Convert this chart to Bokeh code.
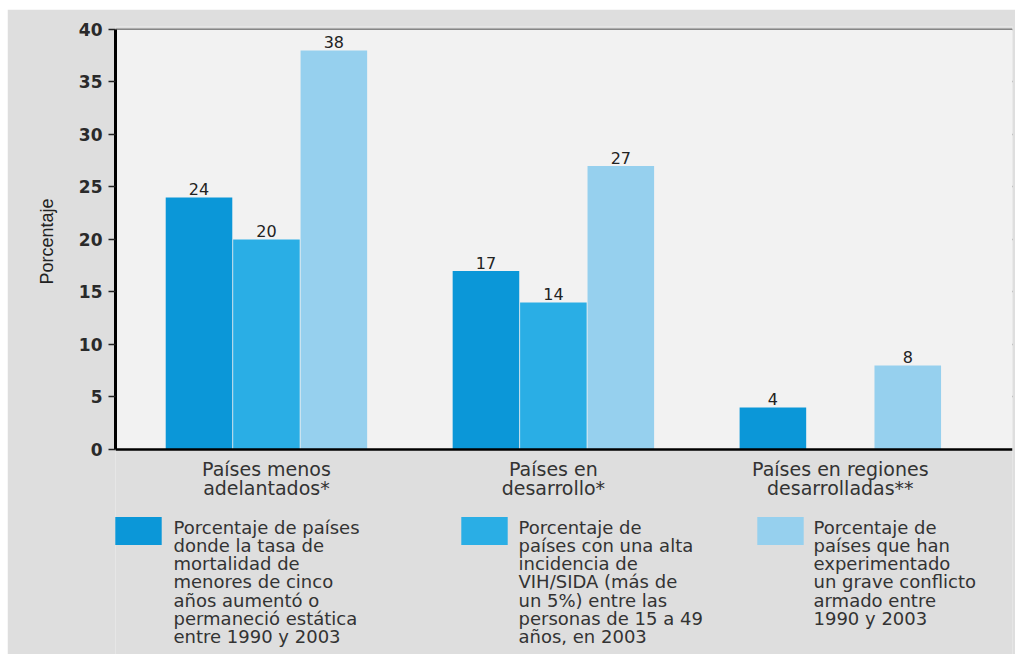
from bokeh.plotting import figure
from bokeh.models import (ColumnDataSource, Range1d, FixedTicker, Legend, LegendItem,
                          BoxAnnotation, Span, Label, Title)
from bokeh.embed import file_html
from bokeh.resources import INLINE
from bokeh.core.properties import value

# ---- data ----
categories = ["Países menos\nadelantados*", "Países en\ndesarrollo*", "Países en regiones\ndesarrolladas**"]
mortalidad = [24, 17, 4]
vih_sida = [20, 14, None]
conflicto = [38, 27, 8]
series_labels = [
    "Porcentaje de países\ndonde la tasa de\nmortalidad de\nmenores de cinco\naños aumentó o\npermaneció estática\nentre 1990 y 2003",
    "Porcentaje de\npaíses con una alta\nincidencia de\nVIH/SIDA (más de\nun 5%) entre las\npersonas de 15 a 49\naños, en 2003",
    "Porcentaje de\npaíses que han\nexperimentado\nun grave conflicto\narmado entre\n1990 y 2003",
]
y_title = "Porcentaje"
y_ticks = [0, 5, 10, 15, 20, 25, 30, 35, 40]
colors = ["#0b97d8", "#2aaee5", "#96d0ee"]

series = [mortalidad, vih_sida, conflicto]
offsets = [-0.235, 0.0, 0.235]
bar_w = 0.232
y_max = 40

p = figure(width=1008, height=645, output_backend="svg", toolbar_location=None,
           x_range=Range1d(-0.526, 2.6), y_range=Range1d(-19.524, y_max + 0.2857),
           x_axis_location=None,
           min_border_left=108, min_border_right=3, min_border_top=17, min_border_bottom=0)
p.margin = (9, 0, 0, 7)
p.background_fill_color = "#dedede"
p.border_fill_color = "#dedede"
p.outline_line_color = None

# light plot-area background between 0 and 40
p.add_layout(BoxAnnotation(bottom=0, top=y_max, fill_color="#f2f2f2", fill_alpha=1,
                           line_color=None, level="underlay"))

renderers = []
lx, ly, lt = [], [], []
for vals, off, col in zip(series, offsets, colors):
    xs = [i + off for i in range(len(categories))]
    tops = [float("nan") if v is None else v for v in vals]
    src = ColumnDataSource(dict(x=xs, top=tops))
    r = p.vbar(x="x", top="top", width=bar_w, bottom=0, source=src,
               fill_color=col, line_color=None)
    renderers.append(r)
    for x, v in zip(xs, vals):
        if v is not None:
            lx.append(x); ly.append(v); lt.append(str(v))

lsrc = ColumnDataSource(dict(x=lx, y=ly, t=lt))
p.text(x="x", y="y", text="t", source=lsrc, text_align="center", text_baseline="bottom",
       y_offset=-2, text_font=value("DejaVu Sans"), text_font_size="16px", text_color="#222222")

# x axis line and category labels
p.add_layout(Span(location=0, dimension="width", line_color="black", line_width=2.5))
csrc = ColumnDataSource(dict(x=list(range(len(categories))), y=[0] * len(categories), t=categories))
p.text(x="x", y="y", text="t", source=csrc, text_align="center", text_baseline="top",
       y_offset=9, text_font=value("DejaVu Sans"), text_font_size="19px",
       text_line_height=0.86, text_color="#333333")

# y axis
p.yaxis.bounds = (0, y_max)
p.yaxis.ticker = FixedTicker(ticks=y_ticks)
p.yaxis.axis_line_width = 3
p.yaxis.axis_line_color = "black"
p.yaxis.major_tick_out = 7
p.yaxis.major_tick_in = 0
p.yaxis.major_tick_line_width = 1.5
p.yaxis.major_tick_line_color = "#222222"
p.yaxis.minor_tick_line_color = None
p.yaxis.major_label_text_font = "DejaVu Sans"
p.yaxis.major_label_text_font_style = "bold"
p.yaxis.major_label_text_font_size = "17px"
p.yaxis.major_label_text_color = "#2a2a2a"
p.yaxis.major_label_standoff = 6

# y axis title, placed beside the 0-40 span
p.add_layout(Title(text=y_title, align="left", offset=370, standoff=37,
                   text_font="Liberation Sans", text_font_style="normal",
                   text_font_size="18px", text_color="#222222"), "left")

p.xgrid.grid_line_color = None
p.ygrid.ticker = FixedTicker(ticks=y_ticks[1:])
p.ygrid.grid_line_color = "#1a1a1a"
p.ygrid.grid_line_width = 1.5

# legends: swatches via Legend, texts via labels
leg_x = [-6, 340, 636]
txt_x = [58, 403, 698]
for r, lab, x, tx in zip(renderers, series_labels, leg_x, txt_x):
    lg = Legend(items=[LegendItem(label="", renderers=[r])], location=(x, 106),
                glyph_width=58, glyph_height=35, label_standoff=0, label_width=0,
                padding=0, margin=0, spacing=0,
                background_fill_alpha=0, border_line_alpha=0)
    p.add_layout(lg)
    p.add_layout(Label(x=tx, y=138, x_units="screen", y_units="screen", text=lab,
                       text_baseline="top", text_align="left",
                       text_font="DejaVu Sans", text_font_size="18px",
                       text_line_height=0.87, text_color="#333333"))

open("out.html", "w").write(file_html(p, INLINE))
